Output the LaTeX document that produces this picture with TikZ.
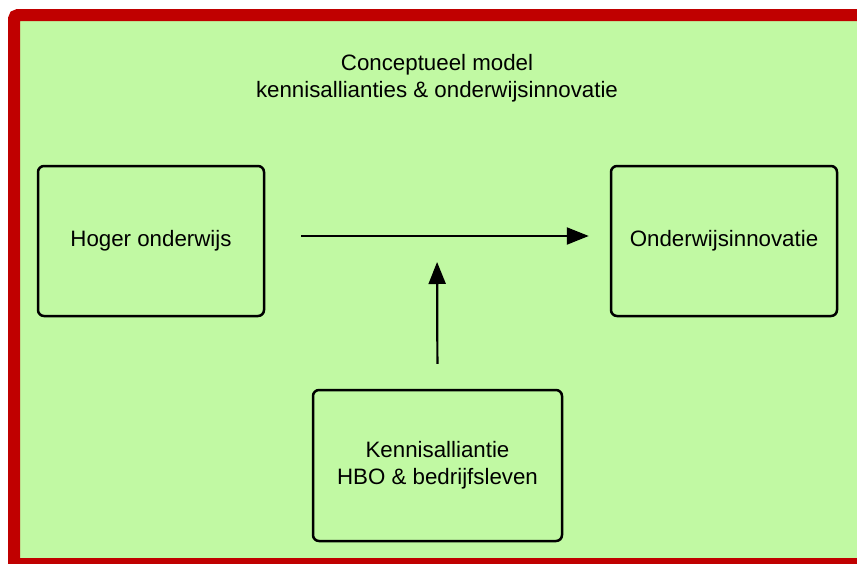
\documentclass[tikz,border=0pt]{standalone}
\usepackage{fontspec}
\setmainfont{Liberation Sans}
\usetikzlibrary{arrows.meta}

\definecolor{framered}{HTML}{C00000}
\definecolor{modelgreen}{HTML}{C1F9A3}

\tikzset{
  blok/.style={draw=black, line width=2.5pt, rounded corners=6pt,
    minimum width=226pt, minimum height=150pt, align=center,
    font=\fontsize{22.3}{27}\selectfont},
  pijl/.style={line width=2.2pt, -{Triangle[length=22pt,width=17pt]}}
}

\begin{document}
\begin{tikzpicture}[x=1pt, y=-1pt]
  \useasboundingbox (0,0) rectangle (857,563);
  \clip (0,0) rectangle (857,563);

  \draw[framered, fill=modelgreen, line width=12pt]
    (880,15) [rounded corners=4pt] -- (14,15) [sharp corners] -- (14,564)
    -- (880,564) -- cycle;

  \node[align=center, font=\fontsize{22.3}{27}\selectfont] (titel) at (437,78.5)
    {Conceptueel model\\kennisallianties \& onderwijsinnovatie};

  \node[blok] (hoger)     at (151,241)   {Hoger onderwijs};
  \node[blok] (innovatie) at (724,241)   {Onderwijsinnovatie};
  \node[blok, minimum width=249pt, minimum height=151pt]
              (alliantie) at (437.5,465.5) {Kennisalliantie\\HBO \& bedrijfsleven};

  \coordinate (mid) at (437,236);

  \draw[pijl, shorten <=36pt, shorten >=21pt] (hoger.east |- mid) -- (innovatie.west |- mid);
  \draw[pijl, shorten <=25pt, shorten >=26pt] (alliantie.north) -- (mid);
\end{tikzpicture}
\end{document}
